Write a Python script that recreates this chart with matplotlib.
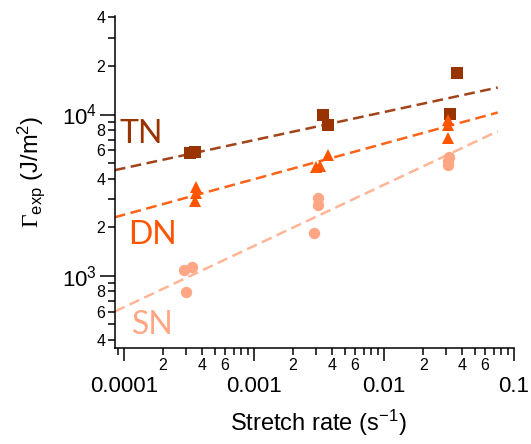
import numpy as np
import matplotlib
matplotlib.use("Agg")
import matplotlib.pyplot as plt
from matplotlib.ticker import FixedLocator, FixedFormatter

plt.rcParams["font.family"] = ["Liberation Sans", "DejaVu Sans"]
plt.rcParams["mathtext.fontset"] = "custom"
plt.rcParams["mathtext.rm"] = "Liberation Sans"
plt.rcParams["mathtext.it"] = "Liberation Sans:italic"
plt.rcParams["mathtext.bf"] = "Liberation Sans:bold"
plt.rcParams["mathtext.sf"] = "Liberation Serif"

# data
tn_rate = [3.2e-4, 3.5e-4, 3.4e-3, 3.7e-3, 3.2e-2, 3.65e-2]
tn_gamma = [5740, 5880, 10000, 8670, 10100, 18100]

dn_rate = [3.55e-4, 3.55e-4, 3.5e-4, 3.0e-3, 3.2e-3, 3.7e-3, 3.1e-2, 3.1e-2, 3.1e-2]
dn_gamma = [3550, 3260, 2910, 4750, 4790, 5600, 9220, 8580, 7110]

sn_rate = [2.9e-4, 3.36e-4, 3.0e-4, 3.1e-3, 3.1e-3, 2.87e-3, 3.15e-2, 3.1e-2, 3.1e-2]
sn_gamma = [1089, 1132, 793, 3024, 2750, 1836, 5470, 5150, 4850]

# fit lines, end points
fit_rate = [8.5e-5, 7.5e-2]
tn_fit = [4520, 14700]
dn_fit = [2307, 10290]
sn_fit = [601, 7880]

x_major = [1e-4, 1e-3, 1e-2, 1e-1]
x_major_labels = ["0.0001", "0.001", "0.01", "0.1"]
x_minor = [m * d for d in [1e-5, 1e-4, 1e-3, 1e-2] for m in range(2, 10)]
x_minor_labels = {2: "2", 4: "4", 6: "6"}

y_major = [1e3, 1e4]
y_major_labels = ["$10^3$", "$10^4$"]
y_minor = [m * d for d in [1e2, 1e3, 1e4] for m in range(2, 10)]
y_minor_labels = {2: "2", 4: "4", 6: "6", 8: "8"}

tn_color = "#993300"
dn_color = "#FF5500"
sn_color = "#FFA785"


def minor_names(ticks, names):
    out = []
    for v in ticks:
        m = int(round(v / 10 ** np.floor(np.log10(v) + 1e-9)))
        out.append(names.get(m, ""))
    return out


fig = plt.figure(figsize=(5.31, 4.44), dpi=100)
ax = fig.add_axes([115 / 531, 1 - 348 / 444, 399 / 531, 332 / 444])

dash = (0, (4.3, 2.2))
ax.plot(fit_rate, tn_fit, color="#A2431A", lw=1.8, linestyle=dash, zorder=2)
ax.plot(fit_rate, dn_fit, color="#FF6318", lw=1.8, linestyle=dash, zorder=2)
ax.plot(fit_rate, sn_fit, color="#FFB596", lw=1.8, linestyle=dash, zorder=2)

ax.plot(tn_rate, tn_gamma, "s", color=tn_color, ms=8.3, mew=0, zorder=3)
ax.plot(dn_rate, dn_gamma, "^", color=dn_color, ms=8.5, mew=0, zorder=3)
ax.plot(sn_rate, sn_gamma, "o", color=sn_color, ms=8.2, mew=0, zorder=3)

ax.set_xscale("log")
ax.set_yscale("log")
ax.set_xlim(8.53e-5, 0.1)
ax.set_ylim(357, 4.08e4)

ax.xaxis.set_major_locator(FixedLocator(x_major))
ax.xaxis.set_major_formatter(FixedFormatter(x_major_labels))
ax.xaxis.set_minor_locator(FixedLocator(x_minor))
ax.xaxis.set_minor_formatter(FixedFormatter(minor_names(x_minor, x_minor_labels)))

ax.yaxis.set_major_locator(FixedLocator(y_major))
ax.yaxis.set_major_formatter(FixedFormatter(y_major_labels))
ax.yaxis.set_minor_locator(FixedLocator(y_minor))
ax.yaxis.set_minor_formatter(FixedFormatter(minor_names(y_minor, y_minor_labels)))

for side in ["top", "right"]:
    ax.spines[side].set_visible(False)
for side in ["left", "bottom"]:
    ax.spines[side].set_linewidth(1.1)

ax.tick_params(axis="x", which="major", length=9.5, width=1.1, pad=11, labelsize=16)
ax.tick_params(axis="x", which="minor", length=5, width=1.1, pad=2.5, labelsize=11.5)
ax.tick_params(axis="y", which="major", length=10.5, width=1.1, pad=2.5, labelsize=16)
ax.tick_params(axis="y", which="minor", length=5, width=1.1, pad=2, labelsize=11.5)

ax.set_xlabel("Stretch rate (s$^{-1}$)", fontsize=17)
ax.xaxis.set_label_coords(0.51, -0.18)
ax.set_ylabel(r"$\mathsf{\Gamma}_{\mathrm{exp}}$ (J/m$^2$)", fontsize=17)
ax.yaxis.set_label_coords(-0.17, 0.53)

ax.text(1.36e-4, 7600, "TN", color=tn_color, fontsize=23, family="Lato",
        ha="center", va="center")
ax.text(1.67e-4, 1790, "DN", color=dn_color, fontsize=23, family="Lato",
        ha="center", va="center")
ax.text(1.67e-4, 495, "SN", color=sn_color, fontsize=23, family="Lato",
        ha="center", va="center")

fig.savefig("out.png", dpi=100)
